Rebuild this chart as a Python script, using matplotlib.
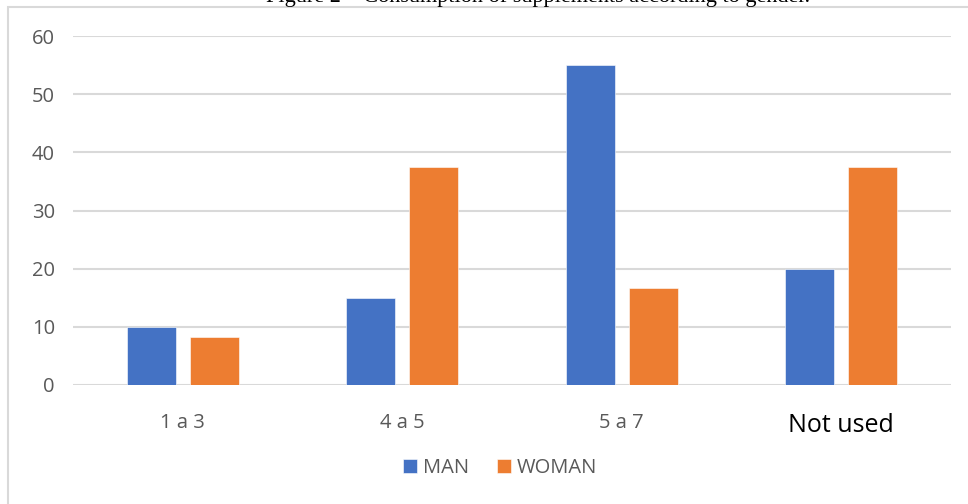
import matplotlib.pyplot as plt
import numpy as np
from matplotlib.patches import Rectangle

# Consumo de suplementos por sexo (%)
categorias = ["1 a 3", "4 a 5", "5 a 7", "Not used"]
hombres = [10, 15, 55, 20]
mujeres = [8.33, 37.5, 16.67, 37.5]
series = ["MAN", "WOMAN"]

azul = "#4472C4"
naranja = "#ED7D31"
gris_texto = "#595959"
gris_linea = "#D9D9D9"

fig = plt.figure(figsize=(9.68, 5.04), dpi=100)
W, H = 968, 504

# marco del grafico (sigue fuera de la imagen a la derecha y abajo)
fig.patches.append(Rectangle((8 / W, -0.2), 1.2, 1.2 - 7 / H, transform=fig.transFigure,
                             fill=False, edgecolor=gris_linea, linewidth=1.5))

# titulo de la figura (recortado arriba)
fig.text(538 / W, 1 - 2 / H, "Figure 2 – Consumption of supplements according to gender.",
         ha="center", va="baseline", fontsize=16, family="Liberation Serif", color="black")

ax = fig.add_axes([73 / W, 1 - 385 / H, (951 - 73) / W, (385 - 36) / H])
x = np.arange(len(categorias))
ancho = 0.2235
desp = 0.143
ax.bar(x - desp, hombres, ancho, color=azul, label=series[0], zorder=3,
       edgecolor="white", linewidth=0.4)
ax.bar(x + desp, mujeres, ancho, color=naranja, label=series[1], zorder=3,
       edgecolor="white", linewidth=0.4)

ax.set_xlim(-0.5, len(categorias) - 0.5)
ax.set_ylim(0, 60)
ax.set_yticks(range(0, 61, 10))
ax.yaxis.grid(True, color=gris_linea, linewidth=1.5, zorder=0)
for s in ax.spines.values():
    s.set_visible(False)
ax.tick_params(length=0)
ax.tick_params(axis="y", labelsize=14.5, labelcolor=gris_texto, pad=13)
ax.set_yticklabels([str(v) for v in range(0, 61, 10)], family="Open Sans")

ax.set_xticks(x)
ax.set_xticklabels(categorias, family="Open Sans", fontsize=14.5, color=gris_texto)
ax.tick_params(axis="x", pad=20)
etiquetas = ax.get_xticklabels()
etiquetas[-1].set_fontsize(18)
etiquetas[-1].set_color("black")

ax.legend(loc="center", bbox_to_anchor=(500 / W, 1 - 468 / H), bbox_transform=fig.transFigure,
          ncol=2, frameon=False, handlelength=0.7, handleheight=0.7, handletextpad=0.3,
          columnspacing=1.4, prop={"family": "Open Sans", "size": 14.5},
          labelcolor=gris_texto)

fig.savefig("out.png", dpi=100, facecolor="white")
